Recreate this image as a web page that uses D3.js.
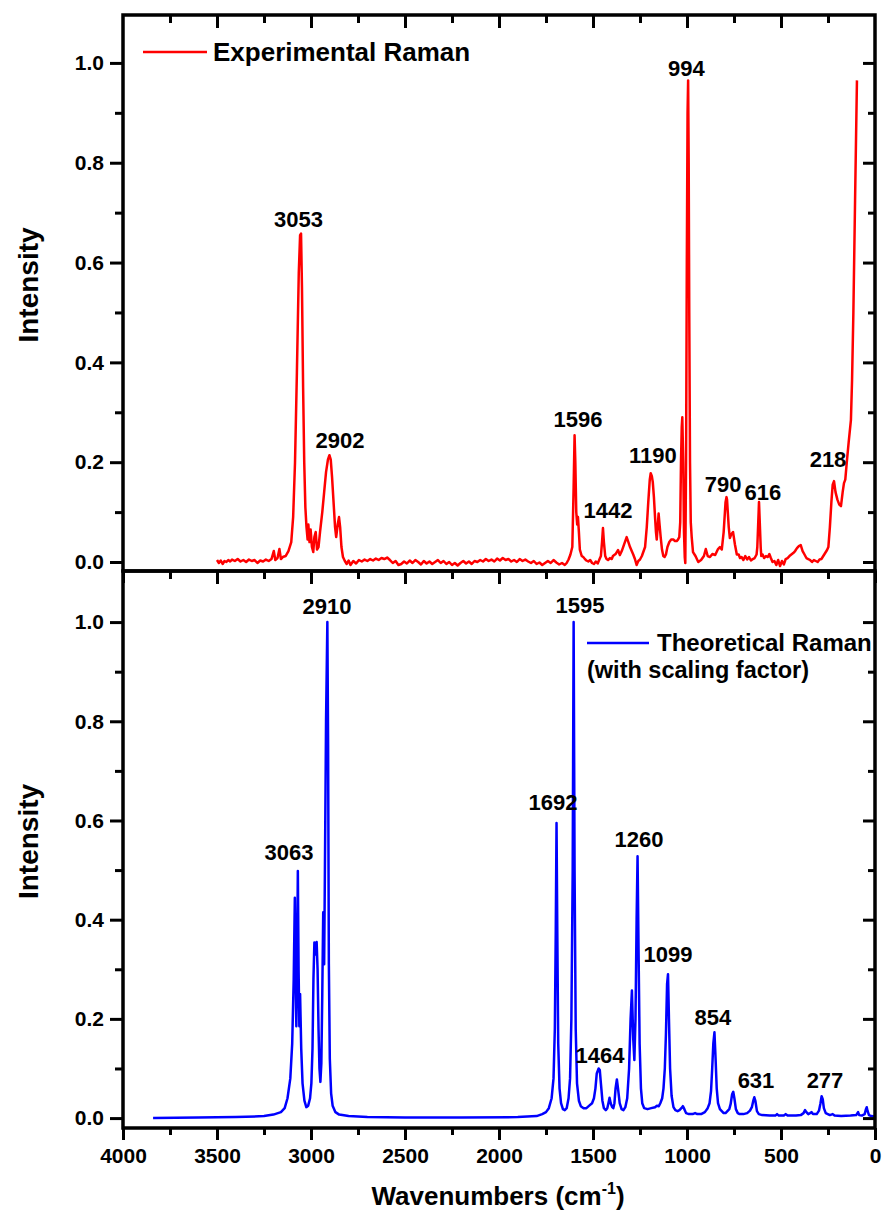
<!DOCTYPE html>
<html>
<head>
<meta charset="utf-8">
<script src="https://cdn.jsdelivr.net/npm/d3@7/dist/d3.min.js"></script>
<style>
  html, body { margin: 0; padding: 0; background: #fff; }
  svg { display: block; font-family: "Liberation Sans", Arial, sans-serif; font-weight: bold; }
</style>
</head>
<body>
<div id="chart"></div>
<script>
// experimental Raman spectrum (wavenumber, intensity)
const expWn = [3500,3490,3480,3470,3460,3450,3440,3430,3420,3405,3390,3375,3360,3345,3330,3315,3300,3285,3270,3255,3240,3225,3210,3198,3190,3178,3168,3160,3150,3135,3120,3105,3095,3085,3075,3065,3058,3053,3048,3042,3036,3030,3024,3018,3014,3008,3002,2995,2988,2982,2975,2968,2960,2952,2940,2930,2920,2910,2902,2895,2888,2880,2872,2866,2858,2851,2845,2838,2830,2820,2810,2800,
  2790,2775,2760,2745,2730,2715,2700,2685,2670,2655,2640,2625,2610,2595,2580,2565,2550,2535,2520,2505,2490,2475,2460,2445,2430,2415,2400,2385,2370,2355,2340,2325,2310,2295,2280,2265,2250,2235,2220,2205,2190,2175,2160,2145,2130,2115,2100,2085,2070,2055,2040,2025,2010,1995,1980,1965,1950,1935,1920,1905,1890,1875,1860,1845,1830,1815,1800,1785,1770,1755,1740,1725,1710,1695,1680,1665,1650,1640,1630,1620,1610,1603,1598,1594,1589,1584,1580,1575,1570,1560,1552,1545,1535,1525,1515,1505,
  1495,1485,1475,1465,1458,1452,1447,1442,1435,1428,1420,1410,1400,1394,1380,1367,1357,1347,1335,1321,1310,1303,1294,1286,1277,1268,1259,1250,1240,1223,1214,1206,1198,1193,1187,1182,1176,1170,1165,1161,1156,1151,1146,1140,1133,1126,1119,1112,1104,1094,1084,1073,1064,1055,1048,1041,1036,1032,1028,1025,1020,1016,1012,1009,1005,1001,997,994,991,988,984,980,975,968,955,940,925,910,900,890,878,865,850,835,825,815,805,795,790,787,783,778,772,765,755,745,735,725,718,710,700,690,680,670,660,650,640,630,626,622,617,612,608,605,598,590,580,570,562,555,545,535,525,515,505,495,485,475,465,455,445,435,425,415,405,395,385,375,365,355,345,335,325,315,305,295,285,275,265,255,248,240,232,225,218,210,200,190,181,172,165,158,150,140,128,122,115,106,100,96];
const expInt = [0.004,-0.002,0.003,-0.004,0.002,0.000,0.004,0.001,0.005,0.002,0.006,0.001,0.004,0.000,0.005,0.002,0.004,-0.002,0.003,0.001,0.005,0.002,0.006,0.022,0.004,0.008,0.026,0.006,0.010,0.012,0.022,0.040,0.090,0.200,0.380,0.580,0.655,0.658,0.550,0.350,0.200,0.110,0.070,0.045,0.075,0.040,0.065,0.030,0.020,0.050,0.060,0.025,0.030,0.060,0.100,0.140,0.180,0.205,0.214,0.205,0.170,0.120,0.070,0.050,0.075,0.090,0.070,0.030,0.010,0.002,-0.004,0.003,
  -0.006,0.002,-0.003,0.004,0.001,0.005,0.002,0.006,0.003,0.007,0.004,0.008,0.006,0.009,0.004,-0.002,0.002,-0.006,-0.004,0.001,-0.003,0.003,-0.002,0.004,0.000,-0.005,0.002,-0.003,0.001,-0.004,0.000,0.004,-0.002,0.002,-0.004,0.000,-0.006,-0.002,-0.007,-0.002,0.002,-0.003,0.001,-0.004,0.002,0.000,0.004,0.001,0.006,0.002,0.005,0.001,0.007,0.003,0.008,0.004,0.006,0.001,0.004,0.000,0.006,0.002,0.005,0.001,-0.002,0.002,-0.004,-0.001,-0.006,-0.002,0.002,-0.002,0.004,-0.001,-0.005,-0.002,-0.006,-0.002,0.005,0.015,0.030,0.150,0.254,0.200,0.100,0.075,0.090,0.060,0.025,0.012,0.010,0.007,0.003,0.001,0.004,-0.002,
  -0.004,0.001,-0.003,0.006,0.012,0.040,0.068,0.040,0.012,0.006,0.004,0.008,0.006,0.012,0.016,0.024,0.014,0.022,0.035,0.050,0.038,0.030,0.022,0.015,0.006,-0.006,0.002,0.005,0.012,0.030,0.070,0.120,0.165,0.178,0.172,0.160,0.130,0.090,0.060,0.045,0.070,0.097,0.075,0.050,0.025,0.012,0.010,0.015,0.030,0.040,0.045,0.045,0.042,0.042,0.045,0.050,0.080,0.200,0.270,0.290,0.200,0.060,0.010,-0.002,0.200,0.600,0.900,0.965,0.800,0.500,0.200,0.080,0.050,0.020,0.012,0.000,0.004,0.012,0.026,0.012,0.010,0.016,0.014,0.026,0.030,0.025,0.060,0.120,0.130,0.125,0.100,0.070,0.048,0.055,0.060,0.035,0.015,0.015,0.008,0.010,0.004,0.012,0.005,0.010,0.003,0.006,0.008,0.015,0.030,0.070,0.120,0.070,0.030,0.012,0.015,0.008,0.012,0.010,0.016,0.009,0.000,0.002,-0.006,0.004,-0.008,0.002,-0.005,0.006,0.008,0.012,0.015,0.018,0.022,0.028,0.032,0.034,0.022,0.015,0.008,0.006,0.004,0.000,0.004,0.002,0.000,0.005,0.006,0.012,0.018,0.024,0.030,0.070,0.120,0.155,0.162,0.140,0.125,0.115,0.112,0.140,0.158,0.165,0.200,0.240,0.285,0.365,0.500,0.725,0.870,0.965];

// theoretical Raman spectrum (with scaling factor)
const theoWn = [3840,3600,3400,3250,3200,3160,3140,3125,3110,3100,3092,3086,3082,3078,3074,3070,3066,3062,3058,3052,3045,3035,3025,3015,3005,2998,2992,2987,2982,2976,2970,2965,2960,2955,2950,2945,2940,2935,2930,2926,2920,2913,2909,2905,2900,2893,2885,2870,2850,2800,2700,2500,2200,1900,1800,1770,1750,1735,1720,1710,1703,1698,1694,1690,1685,1678,1670,1660,1650,1640,1630,1622,1615,1608,1603,1598,1592,1585,1575,1565,1550,1535,1520,1505,1495,1487,1480,1470,1464,1458,1450,1442,1432,1424,1418,1412,1406,1398,1392,1386,1380,1373,1367,1358,1348,1338,1328,1318,1308,1300,1293,1286,1280,1274,1268,1263,1258,1252,1245,1238,1228,1210,1190,1170,1160,1150,1142,1132,1125,1118,1112,1106,1101,1096,1090,1082,1072,1062,1050,1040,1030,1022,1014,1005,990,970,957,945,925,905,890,880,872,866,860,854,848,842,835,825,815,805,795,785,775,768,760,754,748,740,730,720,700,680,665,655,648,642,636,628,618,600,560,530,521,512,485,475,465,420,395,380,372,365,355,345,338,330,310,298,290,284,278,272,262,240,225,215,180,130,100,90,84,70,55,48,44,40,32,20,0];
const theoInt = [0.000,0.001,0.002,0.004,0.007,0.012,0.020,0.040,0.080,0.150,0.280,0.444,0.300,0.185,0.300,0.498,0.300,0.185,0.250,0.140,0.070,0.035,0.022,0.025,0.040,0.070,0.140,0.280,0.354,0.330,0.355,0.300,0.180,0.100,0.073,0.110,0.250,0.415,0.310,0.500,0.800,1.000,0.750,0.310,0.120,0.050,0.025,0.012,0.007,0.004,0.002,0.001,0.001,0.002,0.004,0.008,0.012,0.020,0.040,0.080,0.180,0.380,0.595,0.380,0.150,0.060,0.030,0.018,0.016,0.020,0.040,0.080,0.200,0.500,1.000,0.500,0.180,0.070,0.035,0.024,0.020,0.020,0.025,0.030,0.040,0.060,0.090,0.100,0.097,0.070,0.035,0.020,0.016,0.020,0.030,0.041,0.030,0.022,0.020,0.030,0.060,0.078,0.060,0.030,0.018,0.016,0.022,0.040,0.100,0.200,0.257,0.160,0.117,0.200,0.400,0.528,0.350,0.150,0.060,0.030,0.020,0.018,0.020,0.022,0.025,0.024,0.030,0.040,0.060,0.100,0.170,0.270,0.290,0.200,0.100,0.045,0.022,0.016,0.014,0.016,0.020,0.024,0.018,0.010,0.008,0.008,0.010,0.008,0.008,0.012,0.020,0.030,0.055,0.100,0.150,0.173,0.120,0.060,0.030,0.018,0.014,0.010,0.010,0.014,0.018,0.028,0.048,0.053,0.040,0.018,0.010,0.008,0.008,0.010,0.015,0.022,0.034,0.042,0.034,0.014,0.008,0.006,0.005,0.005,0.008,0.005,0.005,0.008,0.005,0.005,0.006,0.010,0.016,0.012,0.008,0.010,0.012,0.008,0.008,0.015,0.030,0.044,0.038,0.020,0.010,0.006,0.008,0.005,0.004,0.005,0.006,0.012,0.006,0.005,0.008,0.018,0.022,0.015,0.006,0.004,0.003];

// peak labels: text, centre wavenumber, baseline intensity
const expLabels = [["3053",3066,0.671],["2902",2846,0.228],["1596",1580,0.271],["1442",1420,0.088],["1190",1181,0.198],["994",1003,0.974],["790",808,0.140],["616",596,0.124],["218",250,0.190]];
const theoLabels = [["3063",3117,0.520],["2910",2915,1.016],["1692",1713,0.621],["1595",1569,1.018],["1464",1463,0.111],["1260",1255,0.546],["1099",1101,0.315],["854",862,0.188],["631",633,0.060],["277",266,0.060]];

const xMajor = [4000,3500,3000,2500,2000,1500,1000,500,0];
const xMinor = [3750,3250,2750,2250,1750,1250,750,250];
const yMajor = [0.0,0.2,0.4,0.6,0.8,1.0];
const yMinor = [0.1,0.3,0.5,0.7,0.9];

const width = 882, height = 1217;
const left = 123, right = 875;

const svg = d3.select("#chart").append("svg")
  .attr("width", width)
  .attr("height", height);

const x = d3.scaleLinear().domain([4000, 0]).range([left, right]);

const panels = [
  { wn: expWn, val: expInt, color: "#ff0000", top: 15, bottom: 571, domain: [-0.018, 1.096], labels: expLabels, xLabels: false },
  { wn: theoWn, val: theoInt, color: "#0000ff", top: 571, bottom: 1128, domain: [-0.02, 1.103], labels: theoLabels, xLabels: true }
];

panels.forEach((p, i) => {
  const y = d3.scaleLinear().domain(p.domain).range([p.bottom, p.top]);
  const g = svg.append("g");

  g.append("clipPath").attr("id", "clip" + i)
    .append("rect")
    .attr("x", left).attr("y", p.top)
    .attr("width", right - left).attr("height", p.bottom - p.top);

  const pts = p.wn.map((w, k) => [w, p.val[k]]);
  const line = d3.line().x(d => x(d[0])).y(d => y(d[1]));

  g.append("path")
    .datum(pts)
    .attr("clip-path", `url(#clip${i})`)
    .attr("fill", "none")
    .attr("stroke", p.color)
    .attr("stroke-width", 2.5)
    .attr("stroke-linejoin", "round")
    .attr("d", line);

  // ticks
  const tickStyle = sel => {
    sel.select(".domain").remove();
    sel.selectAll("line").attr("stroke", "#000").attr("stroke-width", 3);
    sel.selectAll("text").attr("fill", "#000").style("font-size", "21px").style("font-weight", "bold");
  };

  g.append("g").attr("transform", `translate(${left},0)`)
    .call(d3.axisLeft(y).tickValues(yMajor).tickSize(13).tickPadding(6).tickFormat(d3.format(".1f")))
    .call(tickStyle);
  g.append("g").attr("transform", `translate(${left},0)`)
    .call(d3.axisLeft(y).tickValues(yMinor).tickSize(8).tickFormat(""))
    .call(tickStyle);
  g.append("g").attr("transform", `translate(${right},0)`)
    .call(d3.axisRight(y).tickValues(yMajor).tickSize(-12).tickFormat(""))
    .call(tickStyle);
  g.append("g").attr("transform", `translate(${right},0)`)
    .call(d3.axisRight(y).tickValues(yMinor).tickSize(-7).tickFormat(""))
    .call(tickStyle);

  g.append("g").attr("transform", `translate(0,${p.top})`)
    .call(d3.axisTop(x).tickValues(xMajor.slice(1, -1)).tickSize(-13).tickFormat(""))
    .call(tickStyle);
  g.append("g").attr("transform", `translate(0,${p.top})`)
    .call(d3.axisTop(x).tickValues(xMinor).tickSize(-8).tickFormat(""))
    .call(tickStyle);
  g.append("g").attr("transform", `translate(0,${p.bottom})`)
    .call(d3.axisBottom(x).tickValues(xMajor).tickSize(12).tickPadding(8).tickFormat(p.xLabels ? d3.format("d") : ""))
    .call(tickStyle);
  g.append("g").attr("transform", `translate(0,${p.bottom})`)
    .call(d3.axisBottom(x).tickValues(xMinor).tickSize(7).tickFormat(""))
    .call(tickStyle);

  // frame
  g.append("rect")
    .attr("x", left).attr("y", p.top)
    .attr("width", right - left).attr("height", p.bottom - p.top)
    .attr("fill", "none").attr("stroke", "#000").attr("stroke-width", 3.5);

  // peak labels
  g.selectAll(".peak").data(p.labels).enter()
    .append("text")
    .attr("x", d => x(d[1]))
    .attr("y", d => y(d[2]))
    .attr("text-anchor", "middle")
    .style("font-size", "22px")
    .attr("fill", "#000")
    .text(d => d[0]);

  // y title
  g.append("text")
    .attr("transform", `translate(38,${(p.top + p.bottom) / 2 - 8}) rotate(-90)`)
    .attr("text-anchor", "middle")
    .style("font-size", "28px")
    .attr("fill", "#000")
    .text("Intensity");
});

// legends
svg.append("line").attr("x1", 143).attr("x2", 207).attr("y1", 52).attr("y2", 52)
  .attr("stroke", "#ff0000").attr("stroke-width", 2.5);
svg.append("text").attr("x", 213).attr("y", 61)
  .style("font-size", "26px").attr("fill", "#000").text("Experimental Raman");

svg.append("line").attr("x1", 587).attr("x2", 649).attr("y1", 643).attr("y2", 643)
  .attr("stroke", "#0000ff").attr("stroke-width", 2.5);
svg.append("text").attr("x", 657).attr("y", 651)
  .style("font-size", "24px").attr("fill", "#000").text("Theoretical Raman");
svg.append("text").attr("x", 587).attr("y", 678)
  .style("font-size", "23.5px").attr("fill", "#000").text("(with scaling factor)");

// x title
const xt = svg.append("text")
  .attr("x", 498).attr("y", 1205)
  .attr("text-anchor", "middle")
  .style("font-size", "26px")
  .attr("fill", "#000");
xt.append("tspan").text("Wavenumbers (cm");
xt.append("tspan").attr("dy", -11).style("font-size", "16px").text("-1");
xt.append("tspan").attr("dy", 11).text(")");
</script>
</body>
</html>
